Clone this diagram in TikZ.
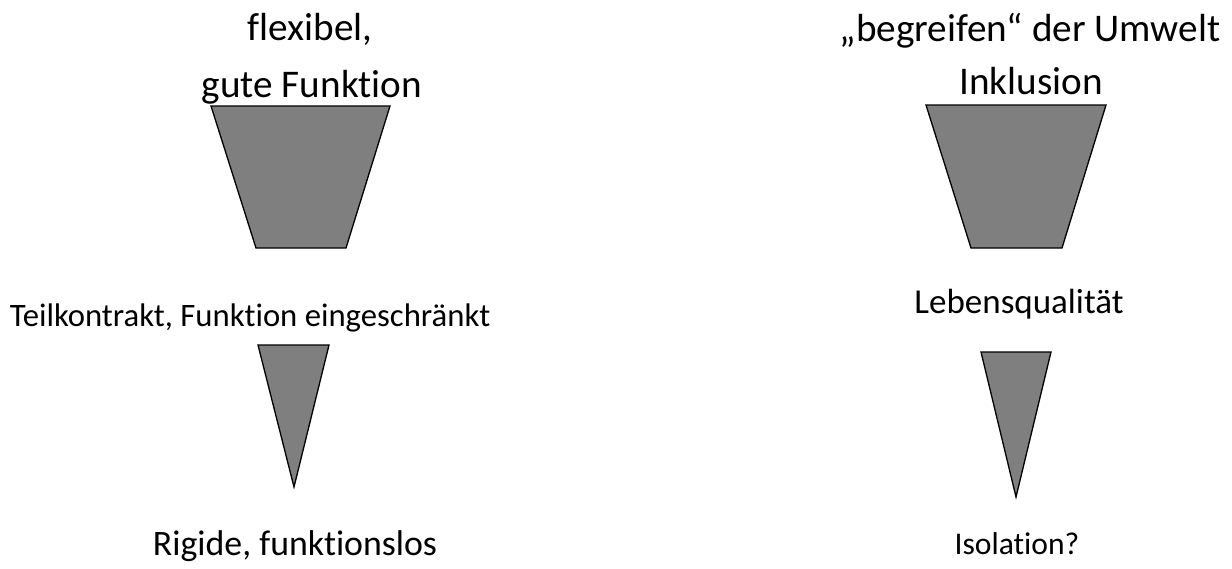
\documentclass[tikz,border=0pt]{standalone}
\usepackage{fontspec}
\setmainfont{Carlito}[Ligatures={NoCommon}]
\definecolor{shapegray}{RGB}{127,127,127}
\tikzset{
  lbl/.style={inner sep=0pt, anchor=base, text=black},
  fs/.style={font=\fontsize{#1}{#1}\selectfont},
  funnel/.style={fill=shapegray, draw=black, line width=1.3pt, line join=miter}
}
\begin{document}
\begin{tikzpicture}[x=1pt,y=-1pt]
\useasboundingbox[fill=white] (0,0) rectangle (1232,568);
% left column
\node[lbl,fs=39.2] (flex) at (310,40) {flexibel,};
\node[lbl,fs=39.2] (gute) at (312,97) {gute Funktion};
\draw[funnel] (211,106) -- (390,106) -- (346,248) -- (256,248) -- cycle;
\node[lbl,fs=32.7] (teil) at (250,326) {Teilkontrakt, Funktion eingeschränkt};
\draw[funnel] (258,345) -- (329,345) -- (294,487) -- cycle;
\node[lbl,fs=35.8] (rig) at (295,555) {Rigide, funktionslos};
% right column
\node[lbl,fs=39.2] (begr) at (1030,41) {„begreifen“ der Umwelt};
\node[lbl,fs=39.2] (inkl) at (1031,94) {Inklusion};
\draw[funnel] (926,105) -- (1106,105) -- (1062,248) -- (971,248) -- cycle;
\node[lbl,fs=35] (leben) at (1019,313) {Lebensqualität};
\draw[funnel] (981,352) -- (1051,352) -- (1016,497) -- cycle;
\node[lbl,fs=31.6] (iso) at (1017,554) {Isolation?};
\end{tikzpicture}
\end{document}
